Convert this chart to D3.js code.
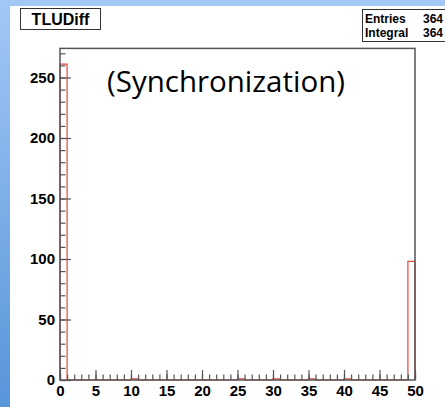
<!DOCTYPE html>
<html>
<head>
<meta charset="utf-8">
<script src="https://cdn.jsdelivr.net/npm/d3@7"></script>
<style>
  html, body { margin: 0; padding: 0; background: #fff; }
  svg { display: block; }
  .tick text { font-family: "Liberation Sans", Arial, sans-serif; font-weight: bold; font-size: 15px; fill: #000; }
</style>
</head>
<body>
<svg id="vizSVG" width="445" height="407"></svg>
<script>
// TLUDiff histogram, 50 bins from 0 to 50
const binCounts = [
  261, 0, 0, 0, 0, 0, 0, 0, 0, 0,
  1, 0, 0, 0, 0, 0, 0, 0, 0, 0,
  0, 0, 0, 0, 0, 1, 0, 0, 0, 0,
  1, 0, 0, 0, 0, 1, 0, 0, 0, 0,
  1, 0, 0, 0, 0, 0, 0, 0, 0, 98
]
const xTickLabels = [0, 5, 10, 15, 20, 25, 30, 35, 40, 45, 50]
const yTickLabels = [0, 50, 100, 150, 200, 250]
const statNames = ['Entries', 'Integral']
const statValues = ['364', '364']
const histTitle = 'TLUDiff'
const overlayText = '(Synchronization)'

const svg = d3.select('#vizSVG'),
    width = +svg.attr('width'),
    height = +svg.attr('height')

// фон слайда: голубой градиент слева и сверху
const defs = svg.append('defs')
const grad = defs.append('linearGradient')
    .attr('id', 'bg').attr('x1', 0).attr('y1', 0).attr('x2', 0).attr('y2', 1)
grad.append('stop').attr('offset', '0%').attr('stop-color', '#a2c8f6')
grad.append('stop').attr('offset', '100%').attr('stop-color', '#5895d9')
svg.append('rect').attr('width', width).attr('height', height).attr('fill', 'url(#bg)')
svg.append('rect').attr('x', 10).attr('y', 6).attr('width', width - 10).attr('height', height - 6).attr('fill', '#fff')

const x0 = 60, x1 = 415, yBottom = 380, yTop = 48.4
const nBins = binCounts.length
const yMax = d3.max(binCounts) * 1.05

const x = d3.scaleLinear().domain([0, nBins]).range([x0, x1])
const y = d3.scaleLinear().domain([0, yMax]).range([yBottom, yTop])

// гистограмма ступеньками
const pts = [[0, 0]]
binCounts.forEach((c, i) => { pts.push([i, c]); pts.push([i + 1, c]) })
pts.push([nBins, 0])
svg.append('path')
    .attr('d', d3.line().x(d => x(d[0])).y(d => y(d[1]))(pts))
    .attr('fill', 'none')
    .attr('stroke', '#e8473a')
    .attr('stroke-width', 1.2)

// оси: малые и большие засечки внутрь рамки
const axisColor = '#555'
function styleAxis(g) {
    g.select('.domain').remove()
    g.selectAll('.tick line').attr('stroke', axisColor).attr('stroke-width', 1.2)
}
svg.append('g').attr('transform', `translate(0,${yBottom})`)
    .call(d3.axisBottom(x).tickValues(d3.range(0, nBins + 1)).tickSize(-5.5).tickFormat(''))
    .call(styleAxis)
svg.append('g').attr('transform', `translate(0,${yBottom})`)
    .call(d3.axisBottom(x).tickValues(xTickLabels).tickSize(-10).tickPadding(5))
    .call(styleAxis)
svg.append('g').attr('transform', `translate(${x0},0)`)
    .call(d3.axisLeft(y).tickValues(d3.range(0, 271, 10)).tickSize(-5.5).tickFormat(''))
    .call(styleAxis)
svg.append('g').attr('transform', `translate(${x0},0)`)
    .call(d3.axisLeft(y).tickValues(yTickLabels).tickSize(-11).tickPadding(5))
    .call(styleAxis)

// рамка
svg.append('rect')
    .attr('x', x0).attr('y', yTop).attr('width', x1 - x0).attr('height', yBottom - yTop)
    .attr('fill', 'none').attr('stroke', axisColor).attr('stroke-width', 1.5)

// заголовок
svg.append('rect').attr('x', 20.5).attr('y', 8.5).attr('width', 80).attr('height', 21)
    .attr('fill', '#fff').attr('stroke', '#333').attr('stroke-width', 1)
svg.append('text').attr('x', 60.5).attr('y', 25)
    .attr('text-anchor', 'middle')
    .style('font-family', '"Liberation Sans", Arial, sans-serif')
    .style('font-weight', 'bold').style('font-size', '16px')
    .text(histTitle)

// статистика (значения прижаты к правому краю окна)
svg.append('rect').attr('x', 362.5).attr('y', 9.5).attr('width', 90).attr('height', 32)
    .attr('fill', '#fff').attr('stroke', '#333').attr('stroke-width', 1)
statNames.forEach((name, i) => {
    const by = 23 + i * 14
    svg.append('text').attr('x', 365).attr('y', by)
        .style('font-family', '"Liberation Sans", Arial, sans-serif')
        .style('font-weight', 'bold').style('font-size', '12px')
        .text(name)
    svg.append('text').attr('x', 443).attr('y', by)
        .attr('text-anchor', 'end')
        .style('font-family', '"Liberation Sans", Arial, sans-serif')
        .style('font-weight', 'bold').style('font-size', '12px')
        .text(statValues[i])
})

// надпись поверх графика
const label = svg.append('text').attr('x', 226).attr('y', 92)
    .attr('text-anchor', 'middle')
    .style('font-family', '"Open Sans", sans-serif')
    .style('font-size', '27px')
    .text(overlayText)
const len = label.node().getComputedTextLength()
label.style('font-size', (27 * 238 / len) + 'px')
</script>
</body>
</html>
